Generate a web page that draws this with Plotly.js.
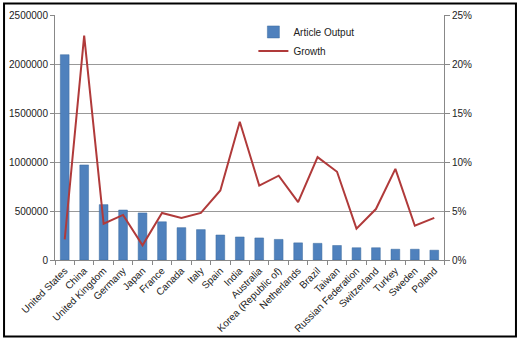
<!DOCTYPE html>
<html><head><meta charset="utf-8">
<script src="https://cdn.plot.ly/plotly-3.0.1.min.js"></script>
<style>html,body{margin:0;padding:0;background:#fff}#c{width:520px;height:339px}</style>
</head><body><div id="c"></div>
<script>
var countries = ["United States","China","United Kingdom","Germany","Japan","France","Canada","Italy","Spain","India","Australia","Korea (Republic of)","Netherlands","Brazil","Taiwan","Russian Federation","Switzerland","Turkey","Sweden","Poland"];
var articleOutput = [2095000,970000,565000,510000,480000,390000,330000,310000,255000,235000,225000,210000,175000,170000,148000,125000,125000,110000,110000,100000];
var growth = [0.021,0.229,0.037,0.046,0.015,0.048,0.043,0.048,0.071,0.141,0.076,0.086,0.059,0.105,0.090,0.032,0.052,0.093,0.035,0.043];

var font = "Liberation Sans, Arial, sans-serif";
var traces = [
  {type:"bar", name:"Article Output", x:countries, y:articleOutput,
   marker:{color:"#4F81BD", line:{color:"#3A6A9F", width:0.5}}, yaxis:"y"},
  {type:"scatter", mode:"lines", name:"Growth", x:countries, y:growth,
   line:{color:"#B03A3A", width:2}, yaxis:"y2"}
];
var layout = {
  width:520, height:339,
  margin:{l:55, r:76, t:15, b:79},
  paper_bgcolor:"#fff", plot_bgcolor:"#fff",
  font:{family:font, size:10, color:"#222"},
  bargap:0.55,
  showlegend:true,
  legend:{x:0.51, y:0.99, xanchor:"left", yanchor:"top", bgcolor:"rgba(0,0,0,0)",
          font:{size:10, family:font}, tracegroupgap:4, itemwidth:30},
  xaxis:{type:"category", tickangle:-45, tickson:"boundaries", ticks:"outside", ticklen:4,
         tickcolor:"#888", showline:true, linecolor:"#888", showgrid:false,
         tickfont:{size:10, family:font}, automargin:false},
  yaxis:{range:[0,2500000], dtick:500000, tickformat:"d", showgrid:true, gridcolor:"#999",
         ticks:"outside", ticklen:4, tickcolor:"#888", showline:true, linecolor:"#888",
         zeroline:false, tickfont:{size:10, family:font}, automargin:false},
  yaxis2:{range:[0,0.25], dtick:0.05, tickformat:".0%", overlaying:"y", side:"right",
          showgrid:false, ticks:"outside", ticklen:5, tickcolor:"#888", showline:true,
          linecolor:"#888", zeroline:false, tickfont:{size:10, family:font}, automargin:false},
  shapes:[{type:"rect", xref:"paper", yref:"paper", x0:-0.131, x1:1.185, y0:-0.312, y1:1.047,
           line:{color:"#000", width:2}, fillcolor:"rgba(0,0,0,0)"}]
};
Plotly.newPlot("c", traces, layout, {displayModeBar:false, staticPlot:true});
</script></body></html>
